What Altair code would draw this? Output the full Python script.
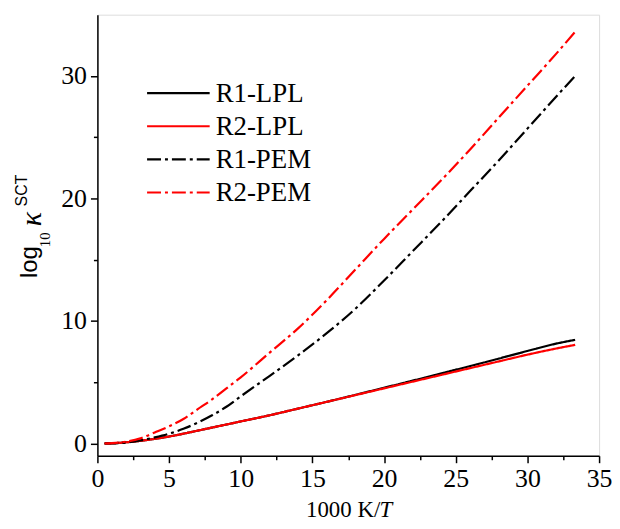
import altair as alt
import pandas as pd

# ---- data ----
x_vals = [0.5, 1, 2, 3, 4, 5, 6, 7, 8, 9, 10, 12, 14, 16, 18, 20, 22, 24, 26, 28, 30, 32, 33.33]
r1_lpl = [0, 0.02, 0.1, 0.22, 0.38, 0.57, 0.8, 1.05, 1.3, 1.55, 1.8, 2.3, 2.85, 3.4, 3.97, 4.55,
          5.13, 5.72, 6.32, 6.93, 7.55, 8.15, 8.46]
r2_lpl = [0, 0.02, 0.1, 0.22, 0.38, 0.57, 0.8, 1.05, 1.3, 1.55, 1.8, 2.3, 2.85, 3.4, 3.95, 4.5,
          5.05, 5.6, 6.15, 6.7, 7.25, 7.75, 8.05]
r1_pem = [0, 0.01, 0.08, 0.25, 0.5, 0.8, 1.2, 1.7, 2.3, 3.0, 3.85, 5.5, 7.2, 9.0, 11.0, 13.3,
          15.7, 18.1, 20.6, 23.1, 25.7, 28.3, 30.0]
r2_pem = [0, 0.03, 0.15, 0.42, 0.9, 1.4, 2.0, 2.8, 3.6, 4.5, 5.4, 7.4, 9.4, 11.7, 14.2, 16.7,
          19.1, 21.5, 24.0, 26.6, 29.2, 31.8, 33.6]

series_names = ["R1-LPL", "R2-LPL", "R1-PEM", "R2-PEM"]
series_vals = [r1_lpl, r2_lpl, r1_pem, r2_pem]
series_colors = ["#000000", "#ff0000", "#000000", "#ff0000"]
series_dash = [[1, 0], [1, 0], [14, 4, 3, 4], [14, 4, 3, 4]]

x_major = [0, 5, 10, 15, 20, 25, 30, 35]
x_minor = [2.5, 7.5, 12.5, 17.5, 22.5, 27.5, 32.5]
y_major = [0, 10, 20, 30]
y_minor = [5, 15, 25]

rows = []
for i, (name, vals) in enumerate(zip(series_names, series_vals)):
    for xv, yv in zip(x_vals, vals):
        rows.append({"x": xv, "y": yv, "series": name, "order": i})
df = pd.DataFrame(rows)
legend_df = pd.DataFrame({"series": series_names, "order": list(range(len(series_names)))})

SERIF = "Liberation Serif"
SANS = "Liberation Sans"

xscale = alt.Scale(domain=[0, 35], nice=False, zero=False)
yscale = alt.Scale(domain=[-1, 35], nice=False, zero=False)
color_scale = alt.Scale(domain=series_names, range=series_colors)
dash_scale = alt.Scale(domain=series_names, range=series_dash)

major_x_axis = alt.Axis(values=x_major, tickSize=7, tickWidth=1.5, tickColor="black",
                        domainColor="black", domainWidth=1.5, labelFont=SERIF,
                        labelFontSize=26, labelColor="black", labelPadding=3,
                        grid=False, title=None, orient="bottom", labelFlush=False)
major_y_axis = alt.Axis(values=y_major, tickSize=7, tickWidth=1.5, tickColor="black",
                        domainColor="black", domainWidth=1.5, labelFont=SERIF,
                        labelFontSize=26, labelColor="black", labelPadding=4,
                        grid=False, title=None, orient="left", labelFlush=False)

lines = alt.Chart(df).mark_line(strokeWidth=2.2, interpolate="monotone").encode(
    x=alt.X("x:Q", scale=xscale, axis=major_x_axis),
    y=alt.Y("y:Q", scale=yscale, axis=major_y_axis),
    color=alt.Color("series:N", scale=color_scale, legend=None),
    strokeDash=alt.StrokeDash("series:N", scale=dash_scale, legend=None),
    order=alt.Order("order:Q"),
    detail="series:N",
)

minor_df = pd.DataFrame({"x": [0, 35], "y": [-1, 35]})
minor = alt.Chart(minor_df).mark_point(opacity=0).encode(
    x=alt.X("x:Q", scale=xscale,
            axis=alt.Axis(values=x_minor, tickSize=4, tickWidth=1.5, tickColor="black",
                          labels=False, domain=False, grid=False, title=None, orient="bottom")),
    y=alt.Y("y:Q", scale=yscale,
            axis=alt.Axis(values=y_minor, tickSize=4, tickWidth=1.5, tickColor="black",
                          labels=False, domain=False, grid=False, title=None, orient="left")),
)

# ---- legend (manual, fixed row spacing) ----
leg_y = alt.Y("series:N", axis=None,
              scale=alt.Scale(type="point", domain=series_names, range=[79, 179], padding=0))
legend_lines = alt.Chart(legend_df).mark_rule(strokeWidth=2.2).encode(
    x=alt.value(50), x2=alt.value(113), y=leg_y,
    color=alt.Color("series:N", scale=color_scale, legend=None),
    strokeDash=alt.StrokeDash("series:N", scale=dash_scale, legend=None),
)
legend_text = alt.Chart(legend_df).mark_text(
    font=SERIF, fontSize=27, align="left", baseline="middle", color="black", dy=1
).encode(x=alt.value(119), y=leg_y, text="series:N")


def txt(s, x, y, font, size, style="normal", angle=0):
    return alt.Chart(pd.DataFrame({"t": [s]})).mark_text(
        font=font, fontSize=size, fontStyle=style, angle=angle, align="left",
        baseline="alphabetic", color="black"
    ).encode(text="t:N", x=alt.value(x), y=alt.value(y))


# y title: log10 kappa^SCT (rotated)
t_log = txt("log", -61, 265, SANS, 24, angle=270)
t_10 = txt("10", -48, 234, SERIF, 15, angle=270)
t_k = txt("κ", -57, 213, SERIF, 30, style="italic", angle=270)
t_sct = txt("SCT", -71, 193, SANS, 16, angle=270)
# x title: 1000 K/T
t_x1 = txt("1000 K/", 210, 506, SERIF, 23)
t_x2 = txt("T", 284, 506, SERIF, 23, style="italic")

chart = alt.layer(minor, lines, legend_lines, legend_text,
                  t_log, t_10, t_k, t_sct, t_x1, t_x2).resolve_scale(
    y="independent"
).resolve_axis(
    x="independent", y="independent"
).properties(
    width=505, height=444,
    autosize=alt.AutoSizeParams(type="none"),
    padding={"left": 90, "top": 5, "right": 13, "bottom": 68},
).configure_view(stroke="black", strokeWidth=1.5).configure(background="white")

chart.save("out.html", embed_options={"renderer": "svg", "actions": False})
